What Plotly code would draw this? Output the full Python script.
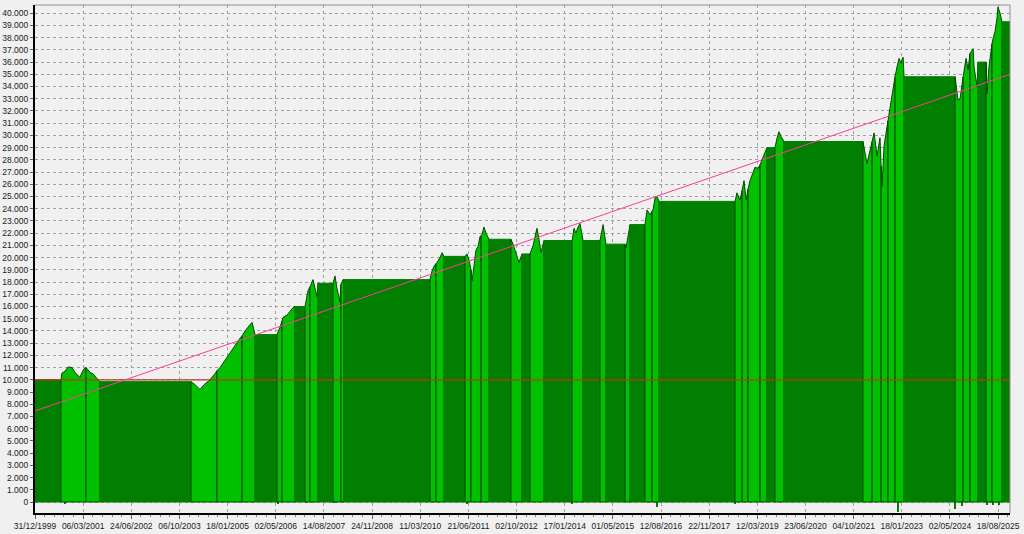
import plotly.graph_objects as go

# ---------------- data ----------------
date_labels = ["31/12/1999", "06/03/2001", "24/06/2002", "06/10/2003", "18/01/2005",
               "02/05/2006", "14/08/2007", "24/11/2008", "11/03/2010", "21/06/2011",
               "02/10/2012", "17/01/2014", "01/05/2015", "12/08/2016", "22/11/2017",
               "12/03/2019", "23/06/2020", "04/10/2021", "18/01/2023", "02/05/2024",
               "18/08/2025"]
bars_per_label = 300
last_bar = 6074

# equity curve vertices (bar index, equity)
eq_idx = [0, 162, 168, 187, 206, 231, 249, 268, 280, 293, 305, 318, 343, 361, 380, 405,
          972, 997, 1028, 1053, 1090, 1121, 1134, 1153, 1184, 1215, 1246, 1277, 1290, 1308,
          1333, 1352, 1371, 1508, 1526, 1539, 1545, 1570, 1589, 1607, 1620, 1682, 1701, 1713,
          1732, 1744, 1757, 1763, 1857, 1869, 1881, 1900, 1906, 1919, 1925, 2461, 2473, 2486,
          2498, 2504, 2523, 2536, 2548, 2679, 2691, 2704, 2716, 2723, 2735, 2747, 2760, 2772,
          2779, 2785, 2797, 2810, 2828, 2965, 2978, 2997, 3015, 3034, 3084, 3103, 3115, 3127,
          3140, 3152, 3171, 3346, 3358, 3370, 3383, 3395, 3414, 3520, 3539, 3557, 3676, 3682,
          3694, 3707, 3800, 3813, 3831, 3844, 3850, 3863, 3875, 3888, 4361, 4373, 4392, 4405,
          4417, 4430, 4442, 4454, 4473, 4486, 4504, 4517, 4535, 4554, 4560, 4610, 4623, 4635,
          4648, 4666, 5158, 5183, 5202, 5215, 5227, 5246, 5264, 5271, 5277, 5289, 5308, 5314,
          5327, 5345, 5358, 5370, 5383, 5395, 5408, 5414, 5732, 5750, 5763, 5782, 5800, 5813,
          5825, 5844, 5850, 5869, 5875, 5925, 5931, 5943, 5962, 5968, 5981, 5993, 5999, 6012,
          6024, 6074]
eq_val = [10000, 10000, 10550, 10700, 11050, 11000, 10600, 10400, 10200, 10600, 10900, 11000,
          10600, 10500, 10200, 9850,
          9850, 9600, 9200, 9600, 10000, 10500, 10750, 11000, 11600, 12300, 12800, 13400, 13600,
          14000, 14400, 14700, 13700, 13700, 14300, 14800, 15100, 15300, 15600, 15900, 16000,
          16000, 17300, 17600, 18200, 17500, 16800, 17900, 17900, 18500, 17500, 16400, 17800,
          18200, 18200, 18200, 18900, 19300, 19500, 19600, 20000, 20400, 20100, 20100, 20300,
          19800, 19000, 18100, 19500, 20600, 20900, 21700, 21800, 21900, 22500, 22000, 21500,
          21500, 21100, 20300, 19600, 20300, 20300, 21000, 21800, 22400, 21500, 20400, 21400,
          21400, 22400, 22000, 22500, 22800, 21400, 21400, 22700, 21100, 21100, 20800, 21800,
          22700, 22700, 23900, 23500, 23800, 23900, 24900, 25000, 24600, 24600, 25300, 24700,
          25500, 26300, 24700, 25600, 26300, 26900, 27400, 27300, 27600, 28200, 28900, 29000,
          29000, 29800, 30300, 29900, 29500, 29500, 27700, 28800, 29500, 30200, 28300, 29800,
          27500, 25800, 29100, 30700, 31200, 32300, 34000, 34800, 35600, 36300, 35900, 36400,
          34800, 34800, 32900, 33000, 34800, 36300, 35400, 36700, 37100, 35600, 34000, 36000,
          36000, 33400, 35600, 37500, 37900, 38500, 39600, 40500, 40000, 39300, 39300]

# trade / idle period boundaries (bar index)
seg_bounds = [0, 162, 318, 405, 972, 1134, 1290, 1371, 1508, 1539, 1620, 1682, 1713, 1763,
              1857, 1906, 1925, 2461, 2498, 2548, 2679, 2716, 2779, 2828, 2965, 3034, 3084,
              3171, 3346, 3414, 3520, 3557, 3676, 3707, 3800, 3844, 3888, 4361, 4405, 4442,
              4517, 4560, 4610, 4666, 5158, 5215, 5271, 5314, 5358, 5414, 5732, 5782, 5825,
              5875, 5925, 5962, 6024, 6074]

# small adverse excursions below zero
dip_idx = [187, 1514, 1688, 1863, 2691, 3346, 3875, 4361, 5377, 5732, 5775, 5931, 5968, 6006]
dip_val = [-100, -100, -80, -80, -120, -150, -420, -150, -800, -570, -330, -250, -250, -250]

initial_capital = 10000
trend_start = 7450
trend_end = 35000

# ---------------- styling ----------------
BRIGHT = "#00c000"
DARK = "#007f00"
EDGE = "#004a00"
BG = "#f0f0f0"
FONT = "Liberation Sans"

fig = go.Figure()

for a, b in zip(seg_bounds[:-1], seg_bounds[1:]):
    pts = [(i, v) for i, v in zip(eq_idx, eq_val) if a <= i <= b]
    xs = [p[0] for p in pts]
    ys = [p[1] for p in pts]
    flat = max(ys) == min(ys)
    fig.add_trace(go.Scatter(
        x=[a] + xs + [b, a], y=[0] + ys + [0, 0],
        mode="lines", fill="toself",
        fillcolor=DARK if flat else BRIGHT,
        line=dict(color=DARK if flat else EDGE, width=1),
        hoverinfo="skip", showlegend=False))

fig.add_trace(go.Bar(x=dip_idx, y=dip_val, width=10, marker=dict(color=DARK, line=dict(width=0)),
                     showlegend=False, hoverinfo="skip"))

fig.add_trace(go.Scatter(x=[0, last_bar], y=[initial_capital, initial_capital], mode="lines",
                         line=dict(color="#c83218", width=1.2), showlegend=False, hoverinfo="skip"))
fig.add_trace(go.Scatter(x=[0, last_bar], y=[trend_start, trend_end], mode="lines",
                         line=dict(color="#ff3c9a", width=1), showlegend=False, hoverinfo="skip"))

tickvals_x = [k * bars_per_label for k in range(len(date_labels))]
yvals = list(range(0, 40001, 1000))
ytext = [f"{v:,}".replace(",", ".") for v in yvals]

fig.update_xaxes(range=[0, last_bar], tickmode="array", tickvals=tickvals_x, ticktext=date_labels,
                 showgrid=True, gridcolor="#a0a0a0", griddash="3px,3px", gridwidth=1,
                 ticks="outside", ticklen=4, tickcolor="#606060",
                 showline=True, linecolor="black", linewidth=2, zeroline=False,
                 minor=dict(ticks="outside", ticklen=2, tickcolor="#808080", tickmode="linear",
                            tick0=0, dtick=60, showgrid=False),
                 tickfont=dict(family=FONT, size=8.5, color="#202020"), automargin=False)
fig.update_yaxes(range=[-900, 40670], tickmode="array", tickvals=yvals, ticktext=ytext,
                 showgrid=True, gridcolor="#a0a0a0", griddash="3px,3px", gridwidth=1,
                 ticks="outside", ticklen=3, tickcolor="#606060",
                 showline=True, linecolor="black", linewidth=2, zeroline=False,
                 tickfont=dict(family=FONT, size=8.5, color="#202020"), automargin=False)

fig.add_shape(type="line", xref="paper", yref="paper", x0=0, x1=1, y0=1, y1=1,
              line=dict(color="#909090", width=1), layer="above")
fig.add_shape(type="line", xref="paper", yref="paper", x0=1, x1=1, y0=0, y1=1,
              line=dict(color="#909090", width=1), layer="above")

fig.update_layout(width=1024, height=534, margin=dict(l=35, r=14, t=5, b=21),
                  paper_bgcolor=BG, plot_bgcolor=BG, bargap=0, showlegend=False,
                  font=dict(family=FONT, size=8.5, color="#202020"))

fig.write_html("out.html", config={"displayModeBar": False},
               post_script="document.body.style.margin='0';document.body.style.background='#f0f0f0';")
